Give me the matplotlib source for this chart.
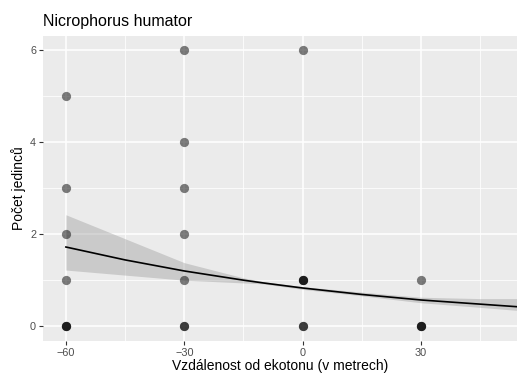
import matplotlib.pyplot as plt
import numpy as np

plt.rcParams['font.family'] = ['Liberation Sans', 'DejaVu Sans']

# catches per trap: distance from ecotone vs. number of individuals
distance = [-60, -60, -60, -60, -60, -60, -60,
            -30, -30, -30, -30, -30, -30, -30,
            0, 0, 0, 0, 0, 0,
            30, 30, 30, 30]
count = [0, 0, 0, 1, 2, 3, 5,
         0, 0, 1, 2, 3, 4, 6,
         0, 0, 1, 1, 1, 6,
         0, 0, 0, 1]

# fitted trend with its confidence band
fit_x = [-60, -45, -30, -15, -10, 0, 15, 30, 45, 55]
fit_y = [1.72, 1.44, 1.20, 1.00, 0.94, 0.83, 0.69, 0.57, 0.48, 0.42]
fit_lo = [1.22, 1.11, 1.00, 0.94, 0.92, 0.80, 0.66, 0.51, 0.41, 0.34]
fit_hi = [2.42, 1.90, 1.38, 1.05, 0.97, 0.86, 0.74, 0.63, 0.60, 0.60]

xticks = [-60, -30, 0, 30]
yticks = [0, 2, 4, 6]

fig = plt.figure(figsize=(5.17, 3.8), dpi=100)
ax = fig.add_axes([43 / 517, 1 - 341 / 380, 1 - 43 / 517, (341 - 36) / 380])
ax.set_facecolor('#EBEBEB')
for s in ax.spines.values():
    s.set_visible(False)

ax.set_xlim(-65.8, 54.3)
ax.set_ylim(-0.32, 6.3)
ax.set_xticks(xticks)
ax.set_yticks(yticks)
ax.set_xticks([-45, -15, 15, 45], minor=True)
ax.set_yticks([1, 3, 5], minor=True)
ax.grid(which='major', color='white', lw=1.1)
ax.grid(which='minor', color='white', lw=0.55)
ax.set_axisbelow(True)
ax.tick_params(which='major', length=3, width=0.8, color='#333333',
               labelcolor='#4D4D4D', labelsize=7.8, pad=2)
ax.tick_params(which='minor', length=0)

ax.fill_between(fit_x, fit_lo, fit_hi, color='#999999', alpha=0.4, lw=0, zorder=2)
ax.plot(fit_x, fit_y, color='black', lw=1.2, zorder=3)
ax.scatter(distance, count, s=44, color='black', alpha=0.5, lw=0, zorder=4)

ax.set_xlabel('Vzdálenost od ekotonu (v metrech)', fontsize=10, labelpad=1)
ax.set_ylabel('Počet jedinců', fontsize=10, labelpad=3)
ax.set_title('Nicrophorus humator', fontsize=11.5, loc='left', pad=7)

fig.savefig('out.png', dpi=100)
